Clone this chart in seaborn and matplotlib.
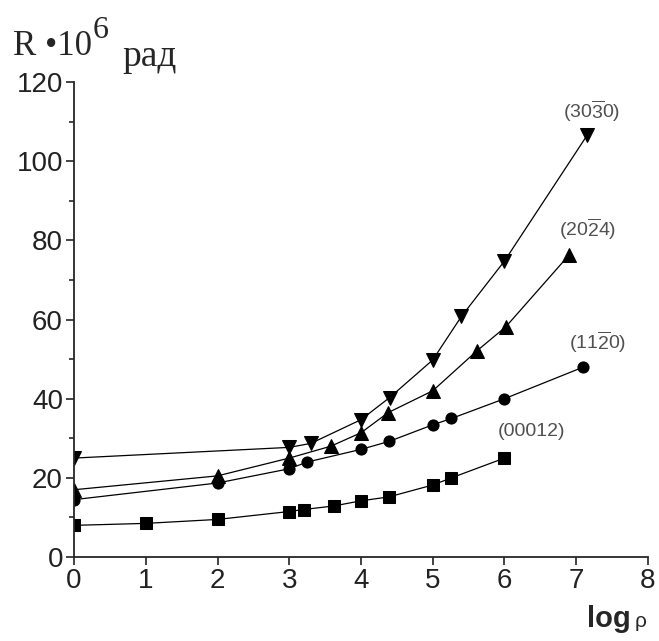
import matplotlib
matplotlib.use("Agg")
import matplotlib.pyplot as plt
import seaborn as sns
import pandas as pd
from matplotlib.ticker import MultipleLocator

# data
x_3030 = [0, 3, 3.3, 4, 4.4, 5, 5.4, 6, 7.15]
y_3030 = [25, 27.7, 28.7, 34.7, 40.3, 49.8, 60.8, 74.8, 106.5]

x_2024 = [0, 2, 3, 3.58, 4, 4.38, 5, 5.61, 6.02, 6.9]
y_2024 = [17, 20.5, 25, 28, 31.4, 36.5, 42, 52, 58.2, 76.3]

x_1120 = [0, 2, 3, 3.25, 4, 4.39, 5, 5.26, 6, 7.1]
y_1120 = [14.5, 18.7, 22.3, 24, 27.2, 29.2, 33.4, 35, 40, 48]

x_00012 = [0, 1, 2, 3, 3.2, 3.62, 4, 4.39, 5, 5.26, 6]
y_00012 = [8, 8.5, 9.5, 11.5, 12, 12.9, 14.2, 15.2, 18.2, 20, 25]

series = [
    (x_3030, y_3030, "v", 10),
    (x_2024, y_2024, "^", 10),
    (x_1120, y_1120, "o", 8),
    (x_00012, y_00012, "s", 8),
]

labels = ["(30$\\overline{3}$0)", "(20$\\overline{2}$4)", "(11$\\overline{2}$0)", "(00012)"]
label_pos = [(7.22, 112.7), (7.16, 82.8), (7.3, 54.4), (6.37, 31.6)]

sns.set_style("ticks")
plt.rcParams["font.family"] = ["Liberation Sans", "DejaVu Sans"]
plt.rcParams["mathtext.fontset"] = "custom"
plt.rcParams["mathtext.rm"] = "Liberation Sans"
plt.rcParams["mathtext.it"] = "Liberation Sans"

fig = plt.figure(figsize=(6.59, 6.41), dpi=100)
ax = fig.add_axes([0.1123, 0.131, 0.871, 0.741])

for xs, ys, mk, ms in series:
    df = pd.DataFrame({"x": xs, "y": ys})
    sns.lineplot(data=df, x="x", y="y", ax=ax, color="black", lw=0.9,
                 marker=mk, markersize=ms, markeredgecolor="black",
                 sort=False, estimator=None)

# cut the markers sitting on the y axis in half, as in the original
for line in ax.lines:
    line.set_clip_path(ax.patch)

for lab, (lx, ly) in zip(labels, label_pos):
    ax.text(lx, ly, lab, fontsize=14, color="#505050", ha="center", va="center")

ax.set_xlim(0, 8)
ax.set_ylim(0, 120)
ax.xaxis.set_major_locator(MultipleLocator(1))
ax.yaxis.set_major_locator(MultipleLocator(20))
ax.yaxis.set_minor_locator(MultipleLocator(10))
ax.tick_params(axis="both", which="major", direction="out", length=6, width=1.2,
               labelsize=20, colors="#222222", pad=2)
ax.tick_params(axis="y", which="minor", direction="out", length=3.5, width=1.2)
for s in ["top", "right"]:
    ax.spines[s].set_visible(False)
for s in ["left", "bottom"]:
    ax.spines[s].set_linewidth(1.3)
ax.set_xlabel("")
ax.set_ylabel("")

# axis titles
t = fig.text(13 / 659, 1 - 55 / 641, "R \u202210", fontsize=25, family="Liberation Serif",
             ha="left", va="baseline")
fig.canvas.draw()
bb = t.get_window_extent()
fig.text(bb.x1 / 659 + 1 / 659, 1 - 38 / 641, "6", fontsize=23, family="Liberation Serif",
         ha="left", va="baseline")
fig.text(122 / 659, 1 - 66 / 641, "рад", fontsize=27, family="Liberation Serif",
         ha="left", va="baseline")
fig.text(587 / 659, 1 - 627 / 641, "log", fontsize=21, weight="bold",
         ha="left", va="baseline")
fig.text(635 / 659, 1 - 627 / 641, "ρ", fontsize=15, ha="left", va="baseline")

fig.savefig("out.png", dpi=100)
